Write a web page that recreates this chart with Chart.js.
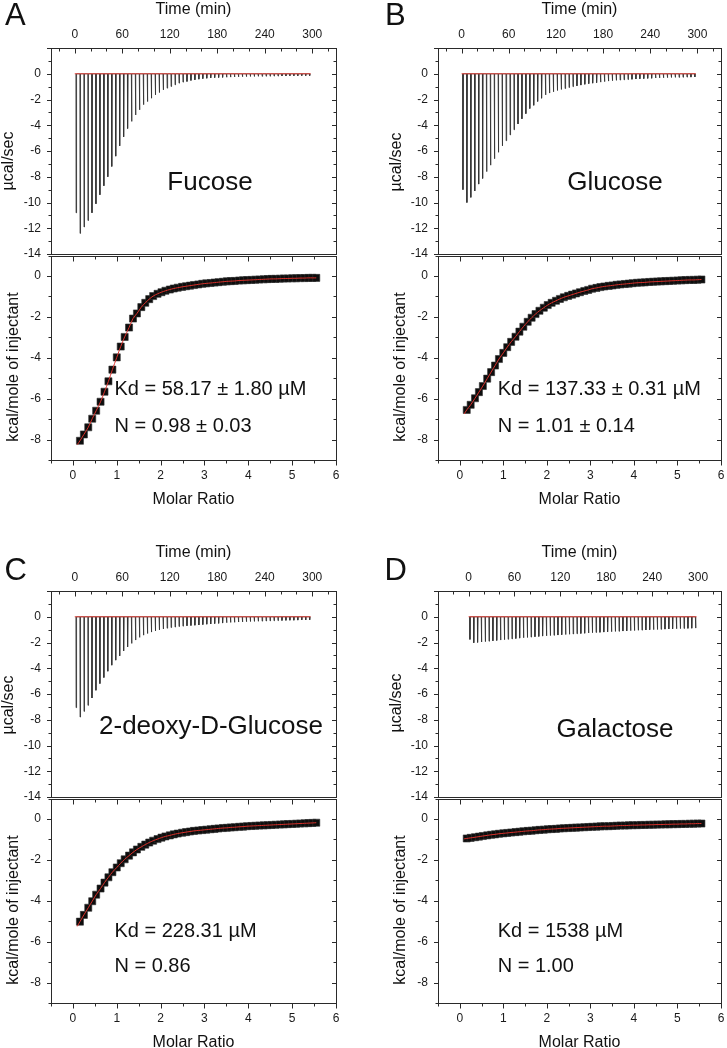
<!DOCTYPE html>
<html><head><meta charset="utf-8">
<script src="https://cdn.jsdelivr.net/npm/chart.js@4.4.1/dist/chart.umd.min.js"></script>
<style>
html,body{margin:0;padding:0;background:#fff;}
body{width:727px;height:1048px;position:relative;overflow:hidden;font-family:"Liberation Sans",Arial,sans-serif;color:#111;}
canvas{position:absolute;}
.t{position:absolute;white-space:nowrap;line-height:1;color:#111;}
</style></head><body>
<script>
// ---------------- DATA ----------------
const panelLetters = ['A', 'B', 'C', 'D'];
const compoundNames = ['Fucose', 'Glucose', '2-deoxy-D-Glucose', 'Galactose'];
const kdLabels = ['Kd = 58.17 \u00b1 1.80 \u00b5M', 'Kd = 137.33 \u00b1 0.31 \u00b5M', 'Kd = 228.31 \u00b5M', 'Kd = 1538 \u00b5M'];
const nLabels = ['N = 0.98 \u00b1 0.03', 'N = 1.01 \u00b1 0.14', 'N = 0.86', 'N = 1.00'];

const timeTicks = [0, 60, 120, 180, 240, 300];
const powerTicks = [-14, -12, -10, -8, -6, -4, -2, 0];
const molarTicks = [0, 1, 2, 3, 4, 5, 6];
const heatTicks = [-8, -6, -4, -2, 0];
const timeMins = [-30, -30, -30, -40];
const timeMax = 330;

// injection times (min)
const injTimes = [1.5,6.5,11.5,16.5,21.5,26.5,31.5,36.5,41.5,46.5,51.5,56.5,61.5,66.5,71.5,76.5,81.5,86.5,91.5,96.5,
101.5,106.5,111.5,116.5,121.5,126.5,131.5,136.5,141.5,146.5,151.5,156.5,161.5,166.5,171.5,176.5,181.5,186.5,191.5,196.5,
201.5,206.5,211.5,216.5,221.5,226.5,231.5,236.5,241.5,246.5,251.5,256.5,261.5,266.5,271.5,276.5,281.5,286.5,291.5,296.5];
const baselineTimes = [0, 298];

// peak depth of each injection (ucal/sec)
const spikesFucose = [-10.8,-12.4,-11.9,-11.4,-10.8,-10.1,-9.4,-8.7,-8.0,-7.2,-6.4,-5.6,-4.9,-4.25,-3.7,-3.2,-2.8,-2.4,-2.16,-1.9,
-1.64,-1.46,-1.25,-1.12,-0.99,-0.86,-0.73,-0.65,-0.6,-0.52,-0.47,-0.42,-0.38,-0.35,-0.32,-0.3,-0.29,-0.28,-0.27,-0.26,
-0.25,-0.24,-0.23,-0.22,-0.21,-0.21,-0.2,-0.2,-0.19,-0.19,-0.18,-0.18,-0.17,-0.17,-0.16,-0.16,-0.16,-0.15,-0.15,-0.15];
const spikesGlucose = [-9.0,-10.0,-9.6,-9.1,-8.57,-8.13,-7.6,-7.1,-6.6,-6.1,-5.6,-5.2,-4.75,-4.35,-3.9,-3.5,-3.1,-2.7,-2.45,-2.15,
-1.9,-1.64,-1.5,-1.4,-1.3,-1.22,-1.15,-1.07,-1.0,-0.94,-0.88,-0.82,-0.77,-0.73,-0.69,-0.65,-0.61,-0.57,-0.54,-0.51,
-0.49,-0.47,-0.45,-0.43,-0.41,-0.39,-0.38,-0.36,-0.35,-0.33,-0.32,-0.31,-0.3,-0.29,-0.28,-0.28,-0.27,-0.26,-0.26,-0.25];
const spikesDeoxy = [-7.06,-7.79,-7.35,-6.88,-6.31,-5.71,-5.19,-4.72,-4.23,-3.76,-3.37,-3.04,-2.65,-2.34,-2.07,-1.81,-1.6,-1.43,-1.3,-1.19,
-1.1,-1.02,-0.95,-0.89,-0.84,-0.8,-0.76,-0.73,-0.7,-0.68,-0.66,-0.64,-0.61,-0.58,-0.56,-0.53,-0.51,-0.49,-0.46,-0.44,
-0.43,-0.41,-0.4,-0.38,-0.37,-0.36,-0.35,-0.34,-0.33,-0.32,-0.31,-0.3,-0.29,-0.28,-0.27,-0.27,-0.26,-0.25,-0.25,-0.24];
const spikesGalactose = [-1.76,-2.02,-1.99,-1.96,-1.93,-1.9,-1.87,-1.84,-1.81,-1.78,-1.75,-1.72,-1.69,-1.66,-1.63,-1.61,-1.58,-1.55,-1.53,-1.5,
-1.48,-1.46,-1.44,-1.42,-1.4,-1.38,-1.36,-1.34,-1.32,-1.3,-1.28,-1.26,-1.24,-1.22,-1.21,-1.19,-1.17,-1.16,-1.14,-1.13,
-1.11,-1.1,-1.08,-1.07,-1.05,-1.04,-1.03,-1.01,-1.0,-0.99,-0.98,-0.96,-0.95,-0.94,-0.93,-0.92,-0.91,-0.9,-0.89,-0.88];

// integrated heats (kcal/mole of injectant) vs molar ratio
const molarRatio = [0.16,0.25,0.35,0.44,0.53,0.63,0.72,0.81,0.90,1.00,1.09,1.18,1.28,1.37,1.46,1.56,1.65,1.74,1.83,1.93,
2.02,2.11,2.21,2.30,2.39,2.49,2.58,2.67,2.76,2.86,2.95,3.04,3.14,3.23,3.32,3.42,3.51,3.60,3.69,3.79,
3.88,3.97,4.07,4.16,4.25,4.35,4.44,4.53,4.62,4.72,4.81,4.90,5.00,5.09,5.18,5.28,5.37,5.46,5.55];
const heatsFucose = [-8.06,-7.75,-7.40,-6.98,-6.59,-6.15,-5.66,-5.15,-4.58,-3.98,-3.45,-2.98,-2.52,-2.08,-1.83,-1.52,-1.31,-1.13,-0.98,-0.87,
-0.79,-0.72,-0.66,-0.61,-0.57,-0.53,-0.50,-0.47,-0.44,-0.41,-0.38,-0.36,-0.34,-0.32,-0.30,-0.28,-0.26,-0.25,-0.24,-0.22,
-0.21,-0.20,-0.19,-0.18,-0.17,-0.16,-0.15,-0.14,-0.14,-0.13,-0.12,-0.12,-0.11,-0.11,-0.10,-0.10,-0.09,-0.09,-0.09];
const heatsGlucose = [-6.55,-6.30,-5.98,-5.68,-5.38,-5.02,-4.70,-4.38,-4.06,-3.76,-3.48,-3.22,-2.97,-2.72,-2.48,-2.24,-2.04,-1.86,-1.70,-1.55,
-1.42,-1.31,-1.21,-1.12,-1.04,-0.97,-0.91,-0.85,-0.79,-0.73,-0.68,-0.62,-0.58,-0.54,-0.51,-0.48,-0.46,-0.43,-0.41,-0.39,
-0.37,-0.35,-0.33,-0.32,-0.31,-0.29,-0.28,-0.27,-0.26,-0.25,-0.24,-0.23,-0.22,-0.21,-0.20,-0.19,-0.19,-0.18,-0.17];
const heatsDeoxy = [-5.02,-4.69,-4.34,-4.02,-3.70,-3.40,-3.11,-2.85,-2.60,-2.37,-2.16,-1.97,-1.79,-1.63,-1.49,-1.36,-1.25,-1.15,-1.06,-0.98,
-0.91,-0.85,-0.80,-0.75,-0.71,-0.67,-0.64,-0.61,-0.58,-0.56,-0.54,-0.52,-0.50,-0.48,-0.46,-0.44,-0.43,-0.41,-0.40,-0.38,
-0.37,-0.35,-0.34,-0.33,-0.32,-0.31,-0.30,-0.29,-0.28,-0.27,-0.26,-0.25,-0.24,-0.23,-0.22,-0.21,-0.20,-0.19,-0.18];
const heatsGalactose = [-0.95,-0.92,-0.89,-0.86,-0.83,-0.80,-0.77,-0.75,-0.72,-0.70,-0.68,-0.66,-0.64,-0.62,-0.60,-0.58,-0.57,-0.55,-0.53,-0.52,
-0.50,-0.49,-0.48,-0.46,-0.45,-0.44,-0.43,-0.42,-0.41,-0.40,-0.39,-0.38,-0.37,-0.36,-0.35,-0.35,-0.34,-0.33,-0.32,-0.32,
-0.31,-0.30,-0.30,-0.29,-0.29,-0.28,-0.28,-0.27,-0.27,-0.26,-0.26,-0.25,-0.25,-0.24,-0.24,-0.23,-0.23,-0.22,-0.22];
// start point of each fitted curve
const fitStartRatio = 0.10;
const fitStartHeats = [-8.25, -6.75, -5.25, -0.97];

// ---------------- LAYOUT (positions / styles only) ----------------
const geom = [
  {L:51,  R:336, T:48,  M:254, B:460,  letter:[5,25],    name:[210,190], kd:[114.4,395,431.7],   yt:[7.8,161],   yb:[12.8,367]},
  {L:438, R:721, T:48,  M:254, B:460,  letter:[385,25],  name:[615,190], kd:[497.7,395,431.7],   yt:[396,161.7], yb:[400,366.7]},
  {L:51,  R:336, T:591, M:797, B:1003, letter:[4.5,580], name:[211,734], kd:[114.4,936.7,972.3], yt:[7.8,705],   yb:[12.8,910]},
  {L:438, R:721, T:591, M:797, B:1003, letter:[384.5,580], name:[615,737], kd:[497.7,936.7,972.3], yt:[396,703], yb:[400,910]}
];
const spikeSets = [spikesFucose, spikesGlucose, spikesDeoxy, spikesGalactose];
const heatSets = [heatsFucose, heatsGlucose, heatsDeoxy, heatsGalactose];

const FONT = '"Liberation Sans", Arial, sans-serif';
Chart.defaults.font.family = FONT;
Chart.defaults.color = '#1a1a1a';

const frameTicks = {
  id: 'frameTicks',
  afterDraw(chart, args, o) {
    const ctx = chart.ctx, a = chart.chartArea, xs = chart.scales.x, ys = chart.scales.y;
    const sn = v => Math.round(v) + 0.5;
    ctx.save();
    ctx.strokeStyle = '#2a2a2a'; ctx.lineWidth = 1;
    const l = sn(a.left), r = sn(a.right), t = sn(a.top), b = sn(a.bottom);
    ctx.strokeRect(l, t, r - l, b - t);
    const seg = (x1, y1, x2, y2) => { ctx.beginPath(); ctx.moveTo(x1, y1); ctx.lineTo(x2, y2); ctx.stroke(); };
    const isMajor = (v, m) => Math.abs(v / m - Math.round(v / m)) < 1e-6;
    for (let k = Math.ceil(xs.min / o.xMinor - 1e-9); k * o.xMinor <= xs.max + 1e-9; k++) {
      const v = k * o.xMinor, len = isMajor(v, o.xMajor) ? 5 : 3, px = sn(xs.getPixelForValue(v));
      if (o.xTop) seg(px, t, px, t + len * o.xTop);
      if (o.xBottom) seg(px, b, px, b + len * o.xBottom);
    }
    for (let k = Math.ceil(ys.min / o.yMinor - 1e-9); k * o.yMinor <= ys.max + 1e-9; k++) {
      const v = k * o.yMinor, len = isMajor(v, o.yMajor) ? 4.5 : 3, py = sn(ys.getPixelForValue(v));
      seg(l, py, l - len, py);
      seg(r, py, r - len, py);
    }
    ctx.restore();
  }
};

function makeCanvas(left, top, w, h) {
  const c = document.createElement('canvas');
  c.width = w; c.height = h;
  c.style.left = left + 'px'; c.style.top = top + 'px';
  c.style.width = w + 'px'; c.style.height = h + 'px';
  document.body.appendChild(c);
  return c;
}
function fixTicks(arr) { return s => { s.ticks = arr.map(v => ({value: v})); }; }
function fitBox(dim, val) {
  return s => { s[dim] = val; s.paddingTop = 0; s.paddingBottom = 0; s.paddingLeft = 0; s.paddingRight = 0; };
}
function addText(txt, x, baseline, size, center) {
  const d = document.createElement('div');
  d.className = 't'; d.textContent = txt;
  d.style.fontSize = size + 'px';
  d.style.top = (baseline - 0.8465 * size) + 'px';
  d.style.left = x + 'px';
  if (center) d.style.transform = 'translateX(-50%)';
  document.body.appendChild(d);
}
function addVText(txt, cx, cy, size) {
  const d = document.createElement('div');
  d.className = 't'; d.textContent = txt;
  d.style.fontSize = size + 'px';
  d.style.left = cx + 'px'; d.style.top = cy + 'px';
  d.style.transform = 'translate(-50%,-50%) rotate(-90deg)';
  document.body.appendChild(d);
}

const tickFont = {size: 12, family: FONT};
const titleFont = {size: 16, family: FONT};

geom.forEach((g, p) => {
  const w = 51 + (g.R - g.L) + 8;
  // thermogram points built from injection times and peak depths
  const spikes = spikeSets[p];
  const thermo = [];
  injTimes.forEach((t0, i) => {
    thermo.push({x: t0, y: 0}, {x: t0 + 0.25, y: spikes[i]}, {x: t0 + 0.8, y: 0});
  });
  const base = baselineTimes.map(t0 => ({x: t0, y: 0}));

  new Chart(makeCanvas(g.L - 51, g.T - 48, w, 48 + (g.M - g.T) + 4), {
    type: 'line',
    data: {datasets: [
      {data: base, borderColor: '#e2463e', borderWidth: 1.2, pointRadius: 0, order: 0},
      {data: thermo, borderColor: '#333333', borderWidth: 0.9, pointRadius: 0, tension: 0, order: 1}
    ]},
    options: {
      responsive: false, animation: false, events: [],
      layout: {padding: {left: 0, right: 8, top: 0, bottom: 4}},
      plugins: {legend: {display: false}, tooltip: {enabled: false},
        frameTicks: {xMinor: 20, xMajor: 60, yMinor: 1, yMajor: 2, xTop: 1, xBottom: 0}},
      scales: {
        x: {type: 'linear', position: 'top', min: timeMins[p], max: timeMax,
          afterBuildTicks: fixTicks(timeTicks), afterFit: fitBox('height', 48),
          grid: {display: false, drawTicks: false}, border: {display: false},
          ticks: {padding: 6.6, font: tickFont, maxRotation: 0, autoSkip: false},
          title: {display: true, text: 'Time (min)', font: titleFont, color: '#111', padding: 0}},
        y: {type: 'linear', position: 'left', min: -14, max: 2,
          afterBuildTicks: fixTicks(powerTicks), afterFit: fitBox('width', 51),
          grid: {display: false, drawTicks: false}, border: {display: false},
          ticks: {padding: 10, font: tickFont}}
      }
    },
    plugins: [frameTicks]
  });

  const heats = heatSets[p];
  const pts = molarRatio.map((m, i) => ({x: m, y: heats[i]}));
  const fit = [{x: fitStartRatio, y: fitStartHeats[p]}].concat(pts);
  new Chart(makeCanvas(g.L - 51, g.M - 4, w, 4 + (g.B - g.M) + 49), {
    type: 'line',
    data: {datasets: [
      {data: fit, borderColor: '#d8302a', borderWidth: 1, pointRadius: 0, tension: 0.3, order: 0},
      {data: pts, showLine: false, pointStyle: 'rect', pointRadius: 5, borderWidth: 0.6,
        backgroundColor: '#0d0d0d', borderColor: '#333', order: 1}
    ]},
    options: {
      responsive: false, animation: false, events: [],
      layout: {padding: {left: 0, right: 8, top: 4, bottom: 0}},
      plugins: {legend: {display: false}, tooltip: {enabled: false},
        frameTicks: {xMinor: 0.5, xMajor: 1, yMinor: 1, yMajor: 2, xTop: 1, xBottom: 1}},
      scales: {
        x: {type: 'linear', position: 'bottom', min: -0.5, max: 6,
          afterBuildTicks: fixTicks(molarTicks), afterFit: fitBox('height', 49),
          grid: {display: false, drawTicks: false}, border: {display: false},
          ticks: {padding: 8, font: tickFont, maxRotation: 0, autoSkip: false},
          title: {display: true, text: 'Molar Ratio', font: titleFont, color: '#111', padding: 0}},
        y: {type: 'linear', position: 'left', min: -9, max: 1,
          afterBuildTicks: fixTicks(heatTicks), afterFit: fitBox('width', 51),
          grid: {display: false, drawTicks: false}, border: {display: false},
          ticks: {padding: 10, font: tickFont}}
      }
    },
    plugins: [frameTicks]
  });

  addText(panelLetters[p], g.letter[0], g.letter[1], 31, false);
  addText(compoundNames[p], g.name[0], g.name[1], 26, true);
  addText(kdLabels[p], g.kd[0], g.kd[1], 20, false);
  addText(nLabels[p], g.kd[0], g.kd[2], 20, false);
  addVText('\u00b5cal/sec', g.yt[0], g.yt[1], 16);
  addVText('kcal/mole of injectant', g.yb[0], g.yb[1], 16);
});
</script>
</body></html>
